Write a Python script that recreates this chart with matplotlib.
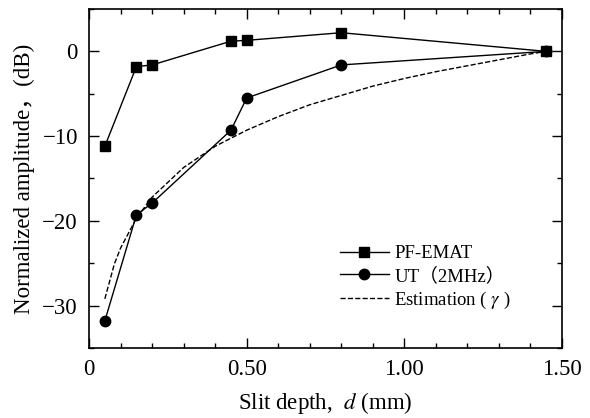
import matplotlib
matplotlib.use('Agg')
import matplotlib.pyplot as plt
from matplotlib.ticker import MultipleLocator

# 数据
depth = [0.05, 0.15, 0.20, 0.45, 0.50, 0.80, 1.45]
pf_emat = [-11.2, -1.8, -1.6, 1.2, 1.3, 2.2, 0.0]
ut_2mhz = [-31.8, -19.3, -17.9, -9.3, -5.5, -1.6, 0.0]

est_depth = [0.05, 0.08, 0.10, 0.15, 0.20, 0.30, 0.40, 0.50, 0.60, 0.70,
             0.80, 0.90, 1.00, 1.10, 1.20, 1.30, 1.40, 1.45]
est_amp = [-29.2, -25.1, -23.2, -19.7, -17.2, -13.7, -11.2, -9.3, -7.7, -6.3,
           -5.2, -4.1, -3.2, -2.4, -1.7, -1.0, -0.3, 0.0]

plt.rcParams['font.family'] = ['Liberation Serif', 'Noto Sans CJK SC']
plt.rcParams['mathtext.fontset'] = 'stix'
plt.rcParams['axes.unicode_minus'] = True

fig = plt.figure(figsize=(5.9, 4.18), dpi=100)
ax = fig.add_axes([0.151, 0.1675, 0.8015, 0.811])

ax.plot(depth, pf_emat, '-', color='black', lw=1.0, marker='s', ms=7.5,
        label='PF-EMAT')
ax.plot(depth, ut_2mhz, '-', color='black', lw=1.0, marker='o', ms=7.5,
        label='UT（2MHz）')
ax.plot(est_depth, est_amp, '--', color='black', lw=1.0,
        label='Estimation ( $\\gamma$ )')

ax.set_xlim(0, 1.5)
ax.set_ylim(-35, 5)
ax.xaxis.set_minor_locator(MultipleLocator(0.1))
ax.yaxis.set_major_locator(MultipleLocator(10))
ax.yaxis.set_minor_locator(MultipleLocator(5))
ax.set_xticks([0, 0.5, 1.0, 1.5])
ax.set_xticklabels(['0', '0.50', '1.00', '1.50'])

ax.tick_params(which='both', direction='in', top=True, right=True,
               labelsize=16.5, width=1.0)
ax.tick_params(which='major', length=7, pad=8)
ax.tick_params(which='minor', length=3.5)
for sp in ax.spines.values():
    sp.set_linewidth(1.2)

ax.set_xlabel('Slit depth,  $d$ (mm)', fontsize=16.5, labelpad=7)
ax.set_ylabel('Normalized amplitude，(dB)', fontsize=16.5, labelpad=5)

ax.legend(loc='lower right', bbox_to_anchor=(0.928, 0.06), frameon=False,
          fontsize=13.5, handlelength=2.6, handletextpad=0.3, labelspacing=0.25)

fig.savefig('out.png', dpi=100)
